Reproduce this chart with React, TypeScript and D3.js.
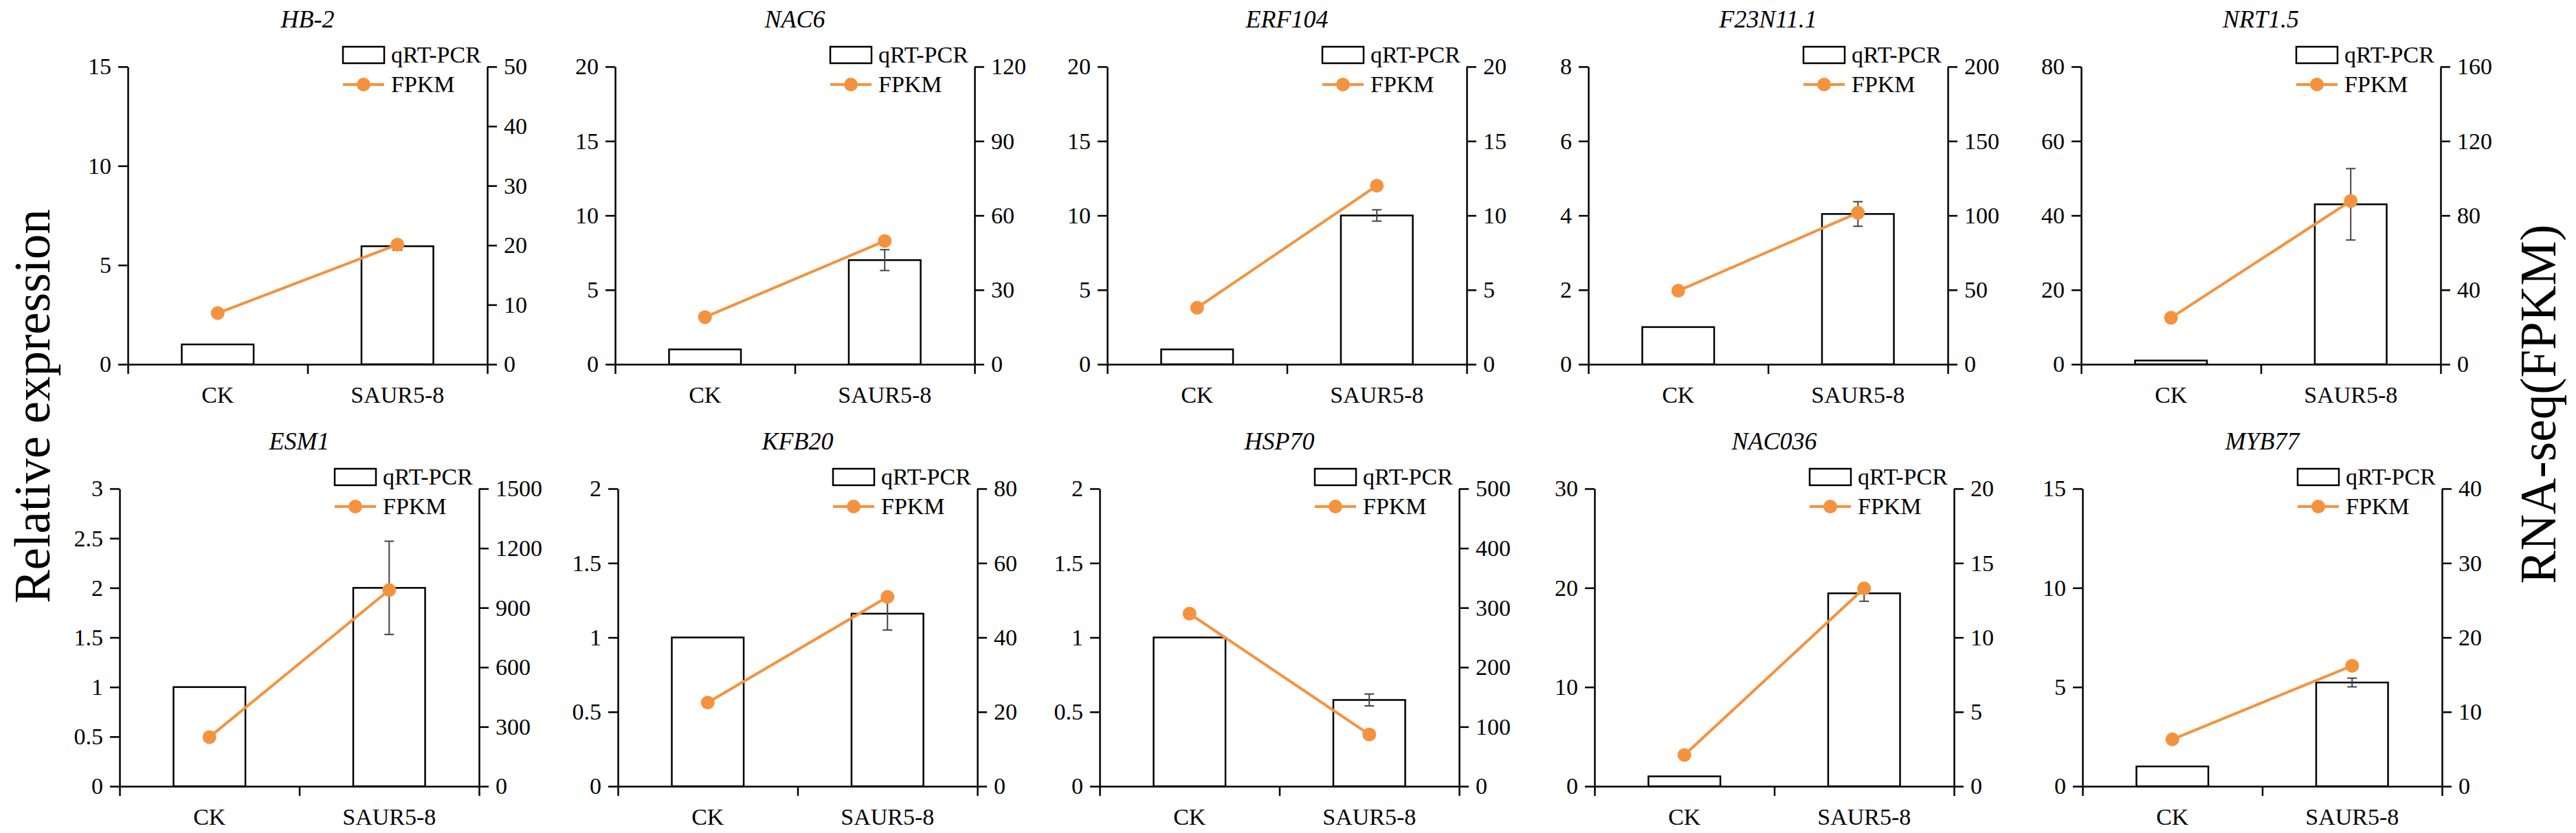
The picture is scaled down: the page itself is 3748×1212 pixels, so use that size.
import React, { useRef, useEffect } from 'react';
import * as d3 from 'd3';

// gene panels, top row first
const genes = ['HB-2', 'NAC6', 'ERF104', 'F23N11.1', 'NRT1.5', 'ESM1', 'KFB20', 'HSP70', 'NAC036', 'MYB77'];
const categories = ['CK', 'SAUR5-8'];

// qRT-PCR relative expression (bars, left axis)
const qpcrCK = [1, 1, 1, 1, 1, 1, 1, 1, 1, 1];
const qpcrSAUR = [5.95, 7.0, 10.0, 4.04, 43.0, 2.0, 1.16, 0.58, 19.45, 5.23];
const qpcrErr = [0.2, 0.7, 0.38, 0.33, 9.6, 0.47, 0.11, 0.04, 0.8, 0.22];

// RNA-seq FPKM (line, right axis)
const fpkmCK = [8.6, 19.0, 3.8, 49.4, 25.0, 248, 22.5, 290, 2.1, 6.3];
const fpkmSAUR = [20.1, 49.7, 12.0, 101.8, 87.8, 989, 50.9, 87, 13.3, 16.2];

// axis ranges
const leftMax = [15, 20, 20, 8, 80, 3, 2, 2, 30, 15];
const leftStep = [5, 5, 5, 2, 20, 0.5, 0.5, 0.5, 10, 5];
const rightMax = [50, 120, 20, 200, 160, 1500, 80, 500, 20, 40];
const rightStep = [10, 30, 5, 50, 40, 300, 20, 100, 5, 10];

const W = 3748;
const H = 1212;
const FONT = '"Liberation Serif", "Times New Roman", serif';
const ORANGE = '#F5923E';

// panel placement (left axis x, top y)
const panelLeft = [186, 895, 1611, 2311, 3028, 174, 899, 1600, 2320, 3030];
const rowTop = [97, 711];
const plotW = 523;
const plotH = 433;

const App: React.FC = () => {
  const svgRef = useRef<SVGSVGElement>(null);

  useEffect(() => {
    const svg = d3.select(svgRef.current);
    svg.selectAll('*').remove();

    svg.append('rect').attr('width', W).attr('height', H).attr('fill', '#fff');

    genes.forEach((gene, i) => {
      const g = svg
        .append('g')
        .attr('transform', `translate(${panelLeft[i]}, ${rowTop[i < 5 ? 0 : 1]})`);

      const x = d3.scaleBand().domain(categories).range([0, plotW]);
      const yL = d3.scaleLinear().domain([0, leftMax[i]]).range([plotH, 0]);
      const yR = d3.scaleLinear().domain([0, rightMax[i]]).range([plotH, 0]);

      const bars = [
        { cat: categories[0], v: qpcrCK[i], e: 0 },
        { cat: categories[1], v: qpcrSAUR[i], e: qpcrErr[i] },
      ];
      const pts = [
        { cat: categories[0], v: fpkmCK[i] },
        { cat: categories[1], v: fpkmSAUR[i] },
      ];

      const barW = x.bandwidth() * 0.4;
      const cx = (c: string) => (x(c) as number) + x.bandwidth() / 2;

      // bars
      g.selectAll('.bar')
        .data(bars)
        .enter()
        .append('rect')
        .attr('x', d => cx(d.cat) - barW / 2)
        .attr('y', d => yL(d.v))
        .attr('width', barW)
        .attr('height', d => plotH - yL(d.v))
        .attr('fill', '#fff')
        .attr('stroke', '#000')
        .attr('stroke-width', 2.5);

      // error bars
      const eb = g.selectAll('.err')
        .data(bars.filter(d => d.e > 0))
        .enter()
        .append('g')
        .attr('stroke', '#444')
        .attr('stroke-width', 2);
      eb.append('line')
        .attr('x1', d => cx(d.cat)).attr('x2', d => cx(d.cat))
        .attr('y1', d => yL(d.v + d.e)).attr('y2', d => yL(d.v - d.e));
      eb.append('line')
        .attr('x1', d => cx(d.cat) - 7).attr('x2', d => cx(d.cat) + 7)
        .attr('y1', d => yL(d.v + d.e)).attr('y2', d => yL(d.v + d.e));
      eb.append('line')
        .attr('x1', d => cx(d.cat) - 7).attr('x2', d => cx(d.cat) + 7)
        .attr('y1', d => yL(d.v - d.e)).attr('y2', d => yL(d.v - d.e));

      // FPKM line
      const line = d3.line<{ cat: string; v: number }>()
        .x(d => cx(d.cat))
        .y(d => yR(d.v));
      g.append('path')
        .datum(pts)
        .attr('fill', 'none')
        .attr('stroke', ORANGE)
        .attr('stroke-width', 4)
        .attr('d', line);
      g.selectAll('.dot')
        .data(pts)
        .enter()
        .append('circle')
        .attr('cx', d => cx(d.cat))
        .attr('cy', d => yR(d.v))
        .attr('r', 10)
        .attr('fill', ORANGE);

      // left axis
      const leftAxis = g.append('g')
        .call(
          d3.axisLeft(yL)
            .tickValues(d3.range(0, leftMax[i] + leftStep[i] / 2, leftStep[i]))
            .tickFormat(d3.format('~g'))
            .tickSize(14)
            .tickSizeOuter(0)
            .tickPadding(10)
        );

      // right axis
      const rightAxis = g.append('g')
        .attr('transform', `translate(${plotW}, 0)`)
        .call(
          d3.axisRight(yR)
            .tickValues(d3.range(0, rightMax[i] + rightStep[i] / 2, rightStep[i]))
            .tickFormat(d3.format('~g'))
            .tickSize(14)
            .tickSizeOuter(0)
            .tickPadding(10)
        );

      // bottom axis: separators only
      const sep = d3.scaleLinear().domain([0, 2]).range([0, plotW]);
      const bottomAxis = g.append('g')
        .attr('transform', `translate(0, ${plotH})`)
        .call(
          d3.axisBottom(sep)
            .tickValues([0, 1, 2])
            .tickFormat(() => '')
            .tickSize(14)
            .tickSizeOuter(0)
        );

      [leftAxis, rightAxis, bottomAxis].forEach(a => {
        a.attr('font-family', FONT);
        a.selectAll('.domain, .tick line')
          .attr('stroke', '#000')
          .attr('stroke-width', 2.5);
        a.selectAll('text')
          .attr('fill', '#000')
          .style('font-family', FONT)
          .style('font-size', '34px');
      });

      // category labels
      g.selectAll('.cat')
        .data(categories)
        .enter()
        .append('text')
        .attr('x', d => cx(d))
        .attr('y', plotH + 56)
        .attr('text-anchor', 'middle')
        .style('font-family', FONT)
        .style('font-size', '34px')
        .text(d => d);

      // title
      g.append('text')
        .attr('x', plotW / 2)
        .attr('y', -57)
        .attr('text-anchor', 'middle')
        .style('font-family', FONT)
        .style('font-size', '36px')
        .style('font-style', 'italic')
        .text(gene);

      // legend
      const lg = g.append('g').attr('transform', `translate(${plotW - 210}, 0)`);
      lg.append('rect')
        .attr('x', 0).attr('y', -29)
        .attr('width', 60).attr('height', 24)
        .attr('fill', '#fff')
        .attr('stroke', '#000')
        .attr('stroke-width', 2.5);
      lg.append('text')
        .attr('x', 70).attr('y', -6)
        .style('font-family', FONT)
        .style('font-size', '34px')
        .text('qRT-PCR');
      lg.append('line')
        .attr('x1', 0).attr('x2', 60)
        .attr('y1', 26).attr('y2', 26)
        .attr('stroke', ORANGE)
        .attr('stroke-width', 4);
      lg.append('circle')
        .attr('cx', 30).attr('cy', 26)
        .attr('r', 10)
        .attr('fill', ORANGE);
      lg.append('text')
        .attr('x', 70).attr('y', 37)
        .style('font-family', FONT)
        .style('font-size', '34px')
        .text('FPKM');
    });

    // shared axis titles
    svg.append('text')
      .attr('transform', 'translate(72, 591) rotate(-90)')
      .attr('text-anchor', 'middle')
      .style('font-family', FONT)
      .style('font-size', '73px')
      .text('Relative expression');

    svg.append('text')
      .attr('transform', 'translate(3718, 588) rotate(-90)')
      .attr('text-anchor', 'middle')
      .style('font-family', FONT)
      .style('font-size', '73px')
      .text('RNA-seq(FPKM)');
  }, []);

  return (
    <div style={{ position: 'absolute', left: 0, top: 0 }}>
      <svg ref={svgRef} width={W} height={H} viewBox={`0 0 ${W} ${H}`} />
    </div>
  );
};

export default App;
